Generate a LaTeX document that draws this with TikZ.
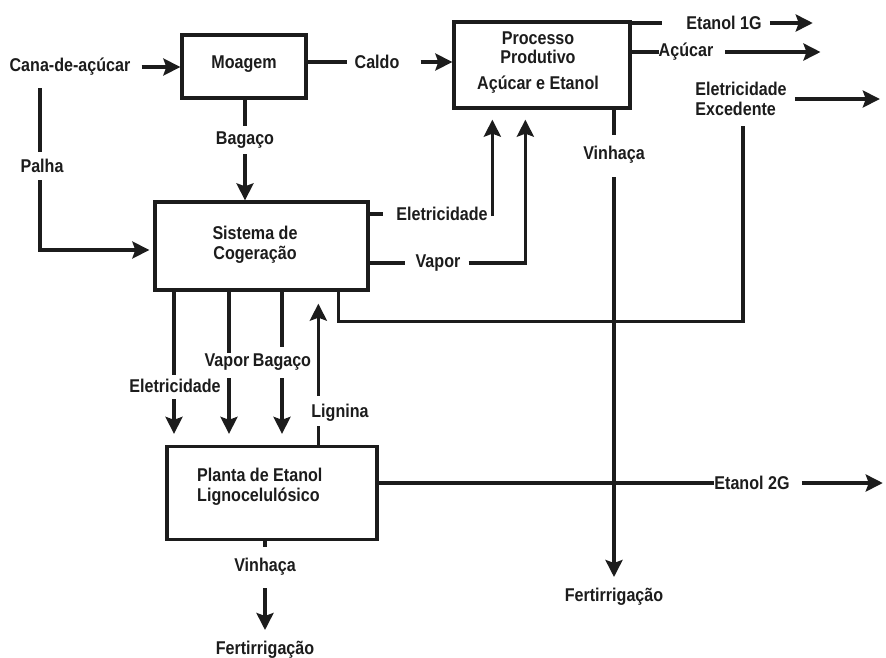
\documentclass[tikz,border=0pt]{standalone}
\usepackage{fontspec}
\setmainfont{Liberation Sans}[FakeStretch=0.87]
\usetikzlibrary{arrows.meta,calc}
\definecolor{ink}{RGB}{28,28,28}
\tikzset{
  lbl/.style={inner sep=0pt, text=ink, font=\bfseries\fontsize{18.5}{20}\selectfont},
  blk/.style={draw=ink, line width=3.3pt, inner sep=0pt},
  flow/.style={draw=ink, line width=3.4pt},
  arr/.style={flow, -{Stealth[length=17pt,width=17pt,inset=3pt]}}
}
\begin{document}
\begin{tikzpicture}[x=1pt,y=-1pt]
\fill[white] (0,0) rectangle (886,657);
\useasboundingbox (0,0) rectangle (886,657);

% process blocks
\node[blk, minimum width=124pt, minimum height=63pt] (moagem) at (244,66.5) {};
\node[lbl] (moagemtxt) at (244,64) {Moagem};
\node[blk, minimum width=176pt, minimum height=86pt] (proc) at (542,65) {};
\node[lbl] (proc1) at (538,38) {Processo};
\node[lbl] (proc2) at (538,57) {Produtivo};
\node[lbl] (proc3) at (538,85) {Açúcar e Etanol};
\node[blk, minimum width=213pt, minimum height=88pt] (cog) at (261.5,246) {};
\node[lbl, align=center] (cogtxt) at (255,245) {Sistema de\\Cogeração};
\node[blk, minimum width=210pt, minimum height=93pt] (plant) at (272,493) {};
\node[lbl, align=left, anchor=west] (planttxt) at (197,487) {Planta de Etanol\\Lignocelulósico};

% stream labels
\node[lbl] (cana) at (70,67) {Cana-de-açúcar};
\node[lbl] (caldo) at (377,62) {Caldo};
\node[lbl] (bag1) at (245,140) {Bagaço};
\node[lbl] (palha) at (42,166) {Palha};
\node[lbl] (el1) at (442,214) {Eletricidade};
\node[lbl] (vap1) at (438,263) {Vapor};
\node[lbl] (et1) at (724,23) {Etanol 1G};
\node[lbl] (acu) at (686,52) {Açúcar};
\node[lbl, align=left] (exc) at (741,99) {Eletricidade\\Excedente};
\node[lbl] (vin1) at (614,155) {Vinhaça};
\node[lbl] (fert1) at (614,597) {Fertirrigação};
\node[lbl] (el2) at (175,386) {Eletricidade};
\node[lbl] (vap2) at (227,362) {Vapor};
\node[lbl] (bag2) at (282,362) {Bagaço};
\node[lbl] (lig) at (340,413) {Lignina};
\node[lbl] (et2) at (752,483) {Etanol 2G};
\node[lbl] (vin2) at (265,567) {Vinhaça};
\node[lbl] (fert2) at (265,650) {Fertirrigação};

% feed and milling
\draw[arr] ($(cana.east)+(11,0)$) -- (moagem.west |- cana);
\draw[flow] (moagem.east |- caldo) -- ($(caldo.west)+(-7,0)$);
\draw[arr] ($(caldo.east)+(21,0)$) -- (proc.west |- caldo);
\draw[flow] (bag1 |- moagem.south) -- ($(bag1)+(0,-14)$);
\draw[arr] ($(bag1)+(0,14)$) -- (bag1 |- cog.north);
\draw[flow] ($(palha |- cana)+(-2,21)$) -- ($(palha)+(-2,-14)$);
\draw[arr] ($(palha)+(-2,14)$) |- ($(cog.west)+(-4,4)$);

% cogeneration to the main process
\coordinate (pin1) at ($(proc.south west)+(40,10)$);
\coordinate (pin2) at ($(proc.south west)+(73,10)$);
\draw[flow] (cog.east |- el1) -- ($(el1.west)+(-13,0)$);
\draw[arr] ($(pin1 |- el1)+(0,2)$) -- (pin1);
\draw[flow] (cog.east |- vap1) -- ($(vap1.west)+(-10,0)$);
\draw[arr] ($(vap1.east)+(8,0)$) -| (pin2);

% main process products
\draw[flow] (proc.east |- et1) -- ($(et1.west)+(-24,0)$);
\draw[arr] ($(et1.east)+(8,0)$) -- ($(et1.east)+(51,0)$);
\draw[flow] (proc.east |- acu) -- (acu.west);
\draw[arr] ($(acu.east)+(12,0)$) -- ($(acu.east)+(107,0)$);
\draw[arr] ($(exc.east)+(8,0)$) -- ($(exc.east)+(93,0)$);
\draw[flow] ($(exc.center)+(2,27)$) |- ($(cog.south east)+(-31,30)$) -- ($(cog.south east)+(-31,0)$);
\draw[flow] (vin1 |- proc.south) -- ($(vin1)+(0,-20)$);
\draw[arr] ($(vin1)+(0,22)$) -- ($(fert1)+(0,-20)$);

% cogeneration to the lignocellulosic plant
\draw[flow] ($(el2 |- cog.south)+(-1,0)$) -- ($(el2)+(-1,-11)$);
\draw[arr] ($(el2)+(-1,13)$) -- ($(el2 |- plant.north)+(-1,-11)$);
\draw[flow] ($(vap2 |- cog.south)+(2,0)$) -- ($(vap2)+(2,-9)$);
\draw[arr] ($(vap2)+(2,16)$) -- ($(vap2 |- plant.north)+(2,-11)$);
\draw[flow] (bag2 |- cog.south) -- ($(bag2)+(0,-15)$);
\draw[arr] ($(bag2)+(0,16)$) -- ($(bag2 |- plant.north)+(0,-11)$);
\draw[flow] ($(plant.north west)+(153,0)$) -- ($(plant.north west)+(153,-19)$);
\draw[arr] ($(plant.north west)+(153,-49)$) -- ($(cog.south west)+(165,12)$);

% lignocellulosic plant products
\draw[flow] (plant.east |- et2) -- (et2.west);
\draw[arr] ($(et2.east)+(12,0)$) -- ($(et2.east)+(93,0)$);
\draw[flow] (vin2 |- plant.south) -- ($(vin2)+(0,-20)$);
\draw[arr] ($(vin2)+(0,21)$) -- ($(fert2)+(0,-20)$);
\end{tikzpicture}
\end{document}
